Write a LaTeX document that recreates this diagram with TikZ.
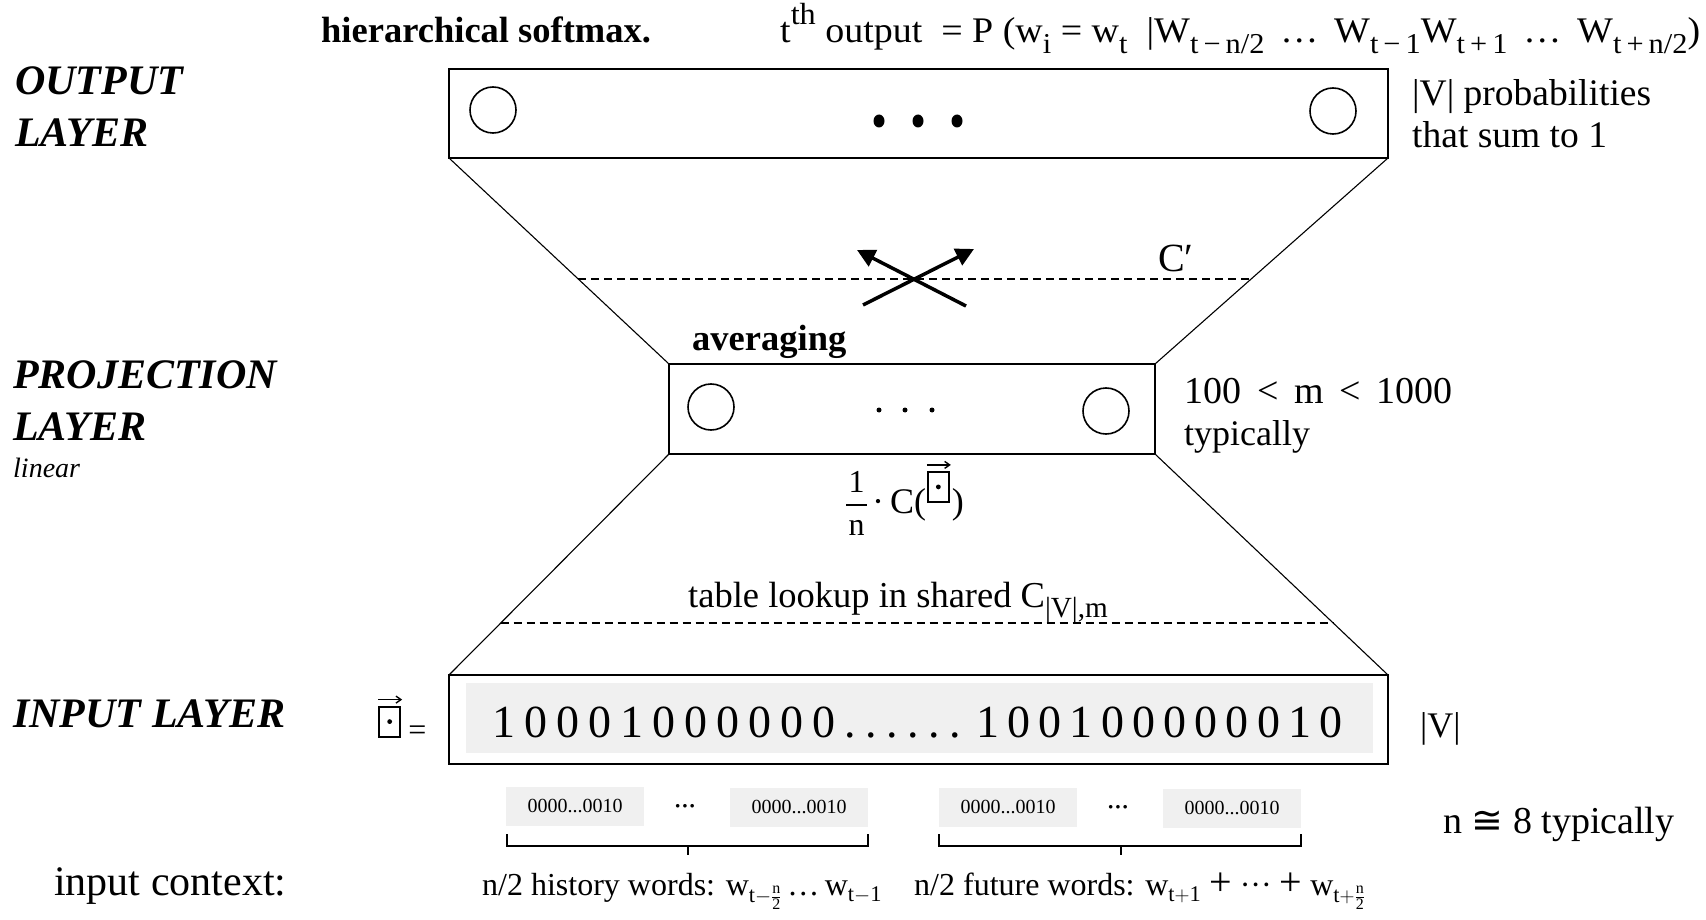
\documentclass[tikz,border=0pt]{standalone}
\usepackage{amsmath,amssymb}
\usepackage{fontspec}
\setmainfont{Liberation Serif}
\newfontfamily\djv{DejaVu Sans}
\usetikzlibrary{arrows.meta,calc,shapes.geometric}
\newcommand{\fs}[1]{\fontsize{#1}{#1}\selectfont}
\newcommand{\sbs}[1]{\raisebox{-0.28em}{\scalebox{0.8}{#1}}}
\newcommand{\sps}[1]{\raisebox{0.5em}{\scalebox{0.85}{#1}}}
\newcommand{\bg}[1]{\makebox[32pt]{#1}}
\newcommand{\bgb}[1]{\makebox[31.2pt]{#1}}
\newcommand{\bp}{\makebox[21pt]{.}}
\newcommand{\vbx}[1]{\tikz[x=1pt, y=1pt, baseline={(0,#1)}]{\draw[line width=1.8pt] (0,0) rectangle (21,30); \fill (10.5,15) circle[radius=2.4]; \draw[line width=1.4pt, -{Straight Barb[length=5pt,width=7pt]}] (-1,37) -- (23,37);}}
\begin{document}
\begin{tikzpicture}[x=1pt,y=-1pt,
  layerbox/.style={draw, line width=2.2pt, outer sep=0pt, inner sep=0pt, anchor=north west},
  neuron/.style={draw, circle, line width=1.6pt, minimum size=46pt, inner sep=0pt},
  bigdot/.style={fill, ellipse, minimum width=11pt, minimum height=13pt, inner sep=0pt},
  smalldot/.style={fill, circle, minimum size=5pt, inner sep=0pt},
  slant/.style={line width=1.1pt},
  dashline/.style={dash pattern=on 8pt off 5pt, line width=1.8pt},
  crossarrow/.style={line width=3.5pt, -{Triangle[length=18pt,width=18pt]}},
  lbl/.style={inner sep=0pt, anchor=base west},
  layerlbl/.style={lbl, font=\fs{42}\bfseries\itshape},
  greybox/.style={fill=black!6, inner sep=0pt, outer sep=0pt},
  brace/.style={line width=1.3pt}
]
\useasboundingbox[fill=white] (0,0) rectangle (1706,920);

% layers
\node[layerbox, minimum width=939pt, minimum height=89pt] (out) at (449,69) {};
\node[neuron] (o1) at (493,110) {};
\node[neuron] (o2) at (1333,111) {};
\node[bigdot] (od1) at (879,121) {};
\node[bigdot] (od2) at (918,121) {};
\node[bigdot] (od3) at (957,121) {};

\node[layerbox, minimum width=486pt, minimum height=90pt] (proj) at (669,364) {};
\node[neuron] (p1) at (711,407) {};
\node[neuron] (p2) at (1106,411) {};
\node[smalldot] (pd1) at (879,410) {};
\node[smalldot] (pd2) at (905,410) {};
\node[smalldot] (pd3) at (932,410) {};

\node[layerbox, minimum width=939pt, minimum height=89pt] (inp) at (449,675) {};
\node[greybox, anchor=north west, minimum width=907pt, minimum height=70pt] (bits) at (466,683) {};
\node[lbl, font=\fs{46}] (bitstr) at (488,737) {\bg1\bg0\bg0\bg0\bg1\bg0\bg0\bg0\bg0\bg0\bg0\bp\bp\bp\bp\bp\bp\hspace{6pt}\bgb1\bgb0\bgb0\bgb1\bgb0\bgb0\bgb0\bgb0\bgb0\bgb0\bgb1\bgb0};

% funnel
\draw[slant] (out.south west) -- (proj.north west);
\draw[slant] (out.south east) -- (proj.north east);
\draw[slant] (proj.south west) -- (inp.north west);
\draw[slant] (proj.south east) -- (inp.north east);

\coordinate (dl1) at ($(out.south west)!0.587!(proj.north west)$);
\coordinate (dr1) at ($(out.south east)!0.587!(proj.north east)$);
\coordinate (dl2) at ($(proj.south west)!0.765!(inp.north west)$);
\coordinate (dr2) at ($(proj.south east)!0.765!(inp.north east)$);
\draw[dashline] (dl1) -- (dr1);
\draw[dashline] (dl2) -- (dr2);

% crossed arrows
\coordinate (a1s) at (966,306);
\coordinate (a1e) at (857,250);
\coordinate (a2s) at (863,305);
\coordinate (a2e) at (974,249);
\draw[crossarrow] (a1s) -- (a1e);
\draw[crossarrow] (a2s) -- (a2e);
\node[font=\fs{40}] (cprime) at (1176,258) {C′};

% labels
\node[lbl, font=\fs{36.5}\bfseries] (hs) at (321,43) {hierarchical softmax.};
\node[lbl, font=\fs{36}] (eq) at (780,43) {\resizebox{920pt}{\height}{t\sps{th} output \ = P (w\sbs{i} = w\sbs{t} \ |W\sbs{t\,−\,n/2} \,…\, W\sbs{t\,−\,1}W\sbs{t\,+\,1} \,…\, W\sbs{t\,+\,n/2})}};

\node[layerlbl] (ol1) at (15,95) {OUTPUT};
\node[layerlbl] (ol2) at (15,147) {LAYER};
\node[layerlbl] (pl1) at (13,388) {PROJECTION};
\node[layerlbl] (pl2) at (13,440) {LAYER};
\node[lbl, font=\fs{28}\itshape] (lin) at (13,477) {linear};
\node[layerlbl] (il) at (13,727) {INPUT LAYER};

\node[lbl, font=\fs{37.5}] (vp1) at (1412,106) {|V| probabilities};
\node[lbl, font=\fs{37.5}] (vp2) at (1412,148) {that sum to 1};
\node[lbl, font=\fs{36.5}\bfseries] (avg) at (692,350) {averaging};
\node[lbl, font=\fs{38}] (m1) at (1184,403) {100 \,<\, m \,<\, 1000};
\node[lbl, font=\fs{36}] (m2) at (1184,445) {typically};
\node[font=\fs{32}, inner sep=0pt] (frac) at (905,503) {\setlength{\arrayrulewidth}{1.6pt}\setlength{\tabcolsep}{0pt}\renewcommand{\arraystretch}{1}\begin{tabular}{c}\makebox[21pt]{1}\\[2pt]\hline\rule{0pt}{30pt}n\end{tabular}\hspace{5pt}{\fs{36}·\,C(}\vbx{12}{\fs{36})}};
\node[lbl, font=\fs{36.5}] (tl) at (688,607) {table lookup in shared C\sbs{|V|,m}};
\node[font=\fs{32}] (vec) at (402,718) {\vbx{4}\,=};
\node[lbl, font=\fs{36}] (vbar) at (1420,737) {|V|};

% context one-hot vectors
\tikzset{smallbox/.style={greybox, minimum width=138pt, minimum height=39pt, font=\fs{20}}}
\node[smallbox] (h1) at (575,806) {0000...0010};
\node[smallbox] (h2) at (799,807) {0000...0010};
\node[smallbox] (f1) at (1008,807) {0000...0010};
\node[smallbox] (f2) at (1232,808) {0000...0010};
\node[font=\fs{22}\bfseries] (hd) at (685,809) {···};
\node[font=\fs{22}\bfseries] (fd) at (1118,810) {···};

\coordinate (b1l) at (507,834);
\coordinate (b1t) at (688,855);
\coordinate (b1r) at (868,834);
\coordinate (b2l) at (939,834);
\coordinate (b2t) at (1121,855);
\coordinate (b2r) at (1301,834);
\draw[brace] (b1l) |- ($(b1t)+(0,-9)$) -- (b1t);
\draw[brace] ($(b1t)+(0,-9)$) -| (b1r);
\draw[brace] (b2l) |- ($(b2t)+(0,-9)$) -- (b2t);
\draw[brace] ($(b2t)+(0,-9)$) -| (b2r);

\node[lbl, font=\fs{42}] (ic) at (54,895) {input context:};
\node[lbl, font=\fs{32}] (hw) at (482,895) {n/2 history words: w$_{\mathrm{t}-\frac{\mathrm{n}}{\mathrm{2}}}$\,…\,w$_{\mathrm{t}-\mathrm{1}}$};
\node[lbl, font=\fs{32}] (fw) at (914,895) {n/2 future words: w$_{\mathrm{t}+\mathrm{1}}$ {\fs{40}+} ··· {\fs{40}+} w$_{\mathrm{t}+\frac{\mathrm{n}}{\mathrm{2}}}$};
\node[lbl, font=\fs{38}] (n8) at (1443,833) {n {\djv ≅} 8 typically};
\end{tikzpicture}
\end{document}
